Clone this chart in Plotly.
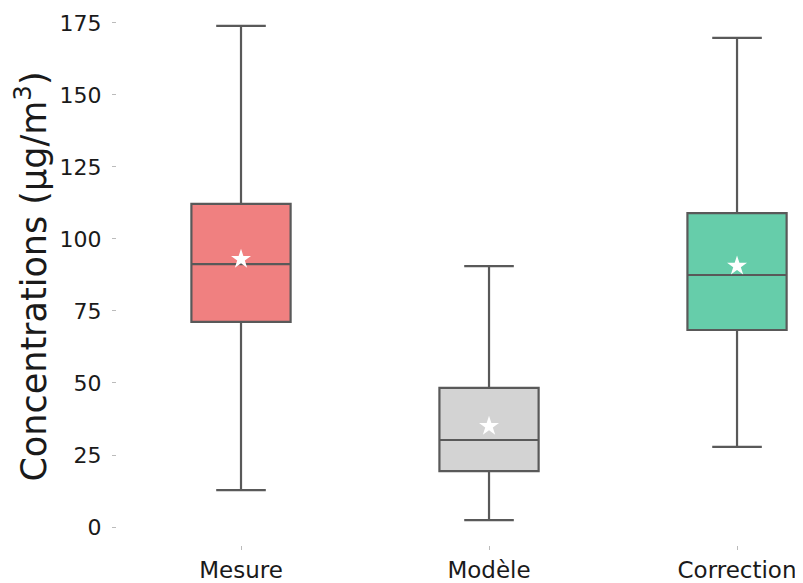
import plotly.graph_objects as go

categories = ["Mesure", "Modèle", "Correction"]
q1_vals = [71.2, 19.4, 68.4]
median_vals = [91.3, 30.2, 87.5]
q3_vals = [112.2, 48.3, 109.0]
lower_vals = [12.8, 2.4, 27.8]
upper_vals = [174.0, 90.6, 169.8]
mean_vals = [93.0, 35.0, 90.6]
fill_colors = ["#F08080", "#D3D3D3", "#66CDAA"]
y_ticks = [0, 25, 50, 75, 100, 125, 150, 175]

fig = go.Figure()
for i, c in enumerate(categories):
    fig.add_trace(go.Box(
        x=[c], q1=[q1_vals[i]], median=[median_vals[i]], q3=[q3_vals[i]],
        lowerfence=[lower_vals[i]], upperfence=[upper_vals[i]],
        width=0.4, whiskerwidth=0.5,
        fillcolor=fill_colors[i],
        line=dict(color="#595959", width=2.2),
        boxpoints=False, showlegend=False, hoverinfo="skip",
    ))

fig.add_trace(go.Scatter(
    x=categories, y=mean_vals, mode="markers",
    marker=dict(symbol="star", color="white", size=15, line=dict(width=0)),
    showlegend=False, hoverinfo="skip",
))

fig.update_layout(
    width=795, height=575,
    margin=dict(l=109, r=0, t=0, b=38),
    plot_bgcolor="white", paper_bgcolor="white",
    font=dict(family="DejaVu Sans", color="#1a1a1a"),
    xaxis=dict(
        type="category", categoryorder="array", categoryarray=categories,
        range=[-0.5, 2.266], showgrid=False, zeroline=False, showline=False,
        ticks="outside", ticklen=4, tickwidth=1, tickcolor="#BBBBBB",
        tickfont=dict(size=23), automargin=False,
    ),
    yaxis=dict(
        range=[-6.25, 180.2], tickvals=y_ticks,
        showgrid=False, zeroline=False, showline=False,
        ticks="outside", ticklen=4, tickwidth=1, tickcolor="#BBBBBB",
        tickfont=dict(size=22), automargin=False, ticklabelstandoff=6,
        title=dict(text="Concentrations (µg/m<sup>3</sup>)", font=dict(size=35), standoff=10),
    ),
)

fig.write_html("out.html")
